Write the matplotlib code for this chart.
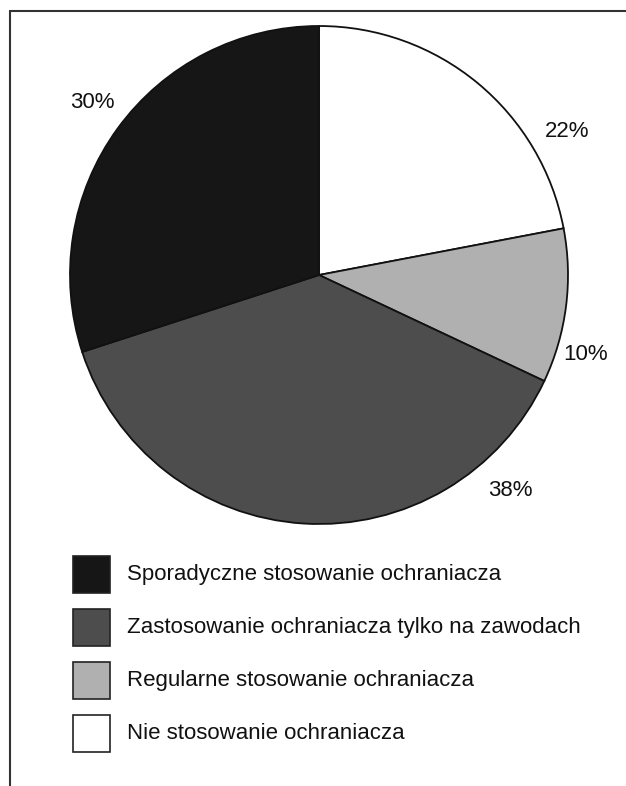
import matplotlib
matplotlib.use("Agg")
import matplotlib.pyplot as plt
from matplotlib.patches import Rectangle
import numpy as np

labels = ["Nie stosowanie ochraniacza", "Regularne stosowanie ochraniacza",
          "Zastosowanie ochraniacza tylko na zawodach", "Sporadyczne stosowanie ochraniacza"]
values = [22, 10, 38, 30]
pct_labels = ["22%", "10%", "38%", "30%"]
colors = ["#ffffff", "#b0b0b0", "#4d4d4d", "#161616"]
legend_order = [3, 2, 1, 0]

W, H = 626, 786
fig = plt.figure(figsize=(W / 100, H / 100), dpi=100)
ax = fig.add_axes([0, 0, 1, 1])
ax.set_xlim(0, W)
ax.set_ylim(0, H)
ax.axis("off")

font = "Liberation Sans"
cx, cy, R = 319, H - 275, 249
ax.pie(values, colors=colors, startangle=90, counterclock=False,
       center=(cx, cy), radius=R,
       wedgeprops=dict(edgecolor="#111111", linewidth=1.3))
ax.set_xlim(0, W)
ax.set_ylim(0, H)
ax.set_aspect("auto")

# percentage labels (placed outside, as in the original)
label_angles = [30.1, -16.7, -48.4, 142.7]
label_r = [287, 278, 288, 285]
for t, a, r in zip(pct_labels, label_angles, label_r):
    x = cx + r * np.cos(np.radians(a))
    y = cy + r * np.sin(np.radians(a))
    ax.text(x, y, t, ha="center", va="center", fontsize=16, family=font, color="#111111")

# legend
box = 37
for i, idx in enumerate(legend_order):
    ytop = 556 + i * 53
    ax.add_patch(Rectangle((73, H - ytop - box), box, box, facecolor=colors[idx],
                           edgecolor="#222222", linewidth=1.2))
    ax.text(127, H - ytop - box / 2, labels[idx], ha="left", va="center",
            fontsize=16, family=font, color="#111111")

# frame (top and left)
ax.plot([9.5, 9.5], [0, H - 11], color="#333333", lw=1.5, solid_capstyle="butt")
ax.plot([9, W], [H - 11, H - 11], color="#333333", lw=1.5, solid_capstyle="butt")

fig.savefig("out.png", dpi=100)
